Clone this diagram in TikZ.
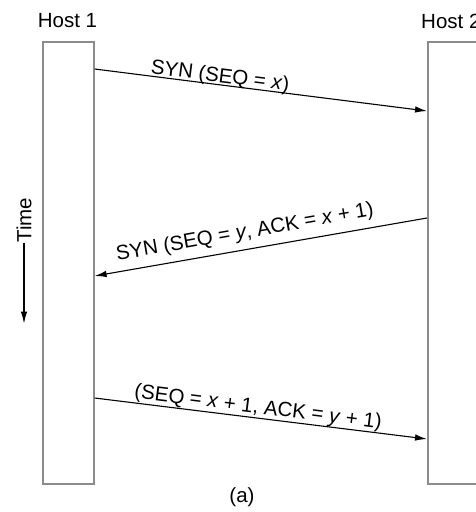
\documentclass[tikz,border=0pt]{standalone}
\usepackage{fontspec}
\setmainfont{Liberation Sans}
\usetikzlibrary{arrows.meta}
\begin{document}
\begin{tikzpicture}[x=1pt,y=1pt,
  every node/.style={font=\fontsize{20.5}{24}\selectfont, text=black},
  hostbox/.style={draw=black!45, line width=1.6pt, minimum width=51pt,
    minimum height=442pt, inner sep=0pt, anchor=north west},
  msg/.style={draw=black, line width=1.1pt,
    -{Latex[length=12pt,width=6.5pt]}},
  lbl/.style={inner sep=0pt}]
\useasboundingbox (0,0) rectangle (476,-512);
\clip (0,0) rectangle (476,-512);

% host timelines
\node[hostbox] (h1) at (42,-41) {};
\node[hostbox] (h2) at (427,-41) {};
\node (t1) at (67.5,-21) {Host 1};
\node[anchor=west, inner sep=0pt] (t2) at (421,-21) {Host 2};

% three-way handshake segments
\draw[msg] ([yshift=-28pt]h1.north east) -- ([yshift=-70pt]h2.north west);
\draw[msg] ([yshift=-177pt]h2.north west) -- ([yshift=-235pt]h1.north east);
\draw[msg] ([yshift=-357pt]h1.north east) -- ([yshift=-398pt]h2.north west);

\node[lbl, rotate=-7.2] (l1) at (220,-77) {SYN (SEQ = \textit{x})};
\node[lbl, rotate=9.9] (l2) at (245,-233) {SYN (SEQ = \textit{y}, ACK = \textit{x} + 1)};
\node[lbl, rotate=-7.1] (l3) at (258,-408) {(SEQ = \textit{x} + 1, ACK = \textit{y} + 1)};

% time axis
\node[lbl, rotate=90] (time) at (24,-220) {Time};
\draw[msg] (time.west) -- ([yshift=-81pt]time.west);

\node (cap) at (242,-497) {(a)};
\end{tikzpicture}
\end{document}
